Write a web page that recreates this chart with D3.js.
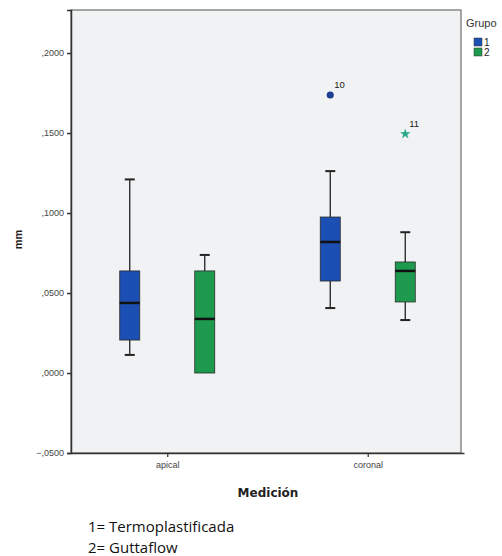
<!DOCTYPE html>
<html>
<head>
<meta charset="utf-8">
<script src="https://cdn.jsdelivr.net/npm/d3@7"></script>
<style>
  body { margin: 0; background: #fff; }
  svg { display: block; }
</style>
</head>
<body>
<div id="chart"></div>
<script>
// data
const mediciones = ["apical", "coronal"];
const grupos = ["1", "2"];
const boxes = [
    {medicion: "apical",  grupo: "1", low: 0.0113, q1: 0.0206, median: 0.0438, q3: 0.0638, high: 0.1210},
    {medicion: "apical",  grupo: "2", low: 0.0000, q1: 0.0000, median: 0.0338, q3: 0.0638, high: 0.0738},
    {medicion: "coronal", grupo: "1", low: 0.0406, q1: 0.0575, median: 0.0819, q3: 0.0975, high: 0.1262},
    {medicion: "coronal", grupo: "2", low: 0.0331, q1: 0.0444, median: 0.0638, q3: 0.0694, high: 0.0880}
];
const outliers = [
    {medicion: "coronal", grupo: "1", value: 0.1738, label: "10", kind: "circle"},
    {medicion: "coronal", grupo: "2", value: 0.1494, label: "11", kind: "star"}
];
const yTicks = [-0.05, 0, 0.05, 0.1, 0.15, 0.2];
const notas = ["1= Termoplastificada", "2= Guttaflow"];

const width = 502, height = 556;
const plot = {left: 71, top: 10, right: 461, bottom: 453};

const color = d3.scaleOrdinal().domain(grupos).range(["#1c4fb3", "#1e9a4f"]);
const outColor = {"1": "#1d3f91", "2": "#2aa98c"};

const y = d3.scaleLinear().domain([-0.05, 0.2269]).range([plot.bottom, plot.top]);
const x = d3.scalePoint().domain(mediciones).range([plot.left, plot.right + 3]).padding(0.48);
const offset = d3.scalePoint().domain(grupos).range([-37.5, 37.5]);
const boxW = 20;

const svg = d3.select("#chart").append("svg")
    .attr("width", width)
    .attr("height", height)
    .style("font-family", "'Liberation Sans', Arial, sans-serif");

svg.append("rect")
    .attr("x", plot.left).attr("y", plot.top)
    .attr("width", plot.right - plot.left).attr("height", plot.bottom - plot.top)
    .attr("fill", "#f1f2f3")
    .attr("stroke", "#6d6d6d")
    .attr("stroke-width", 1.2);

// y axis
const yAxis = svg.append("g")
    .attr("transform", `translate(${plot.left},0)`)
    .call(d3.axisLeft(y).tickValues(yTicks).tickSize(4)
        .tickFormat(d => d3.format(".4f")(d).replace("0.", ".").replace(".", ",")));
yAxis.attr("font-family", null);
yAxis.select(".domain").attr("stroke", "#333").attr("stroke-width", 1.5);
yAxis.selectAll(".tick line").attr("stroke", "#333").attr("stroke-width", 1.5);
yAxis.selectAll("text").attr("font-size", 9).attr("fill", "#444");

// x axis
const xAxis = svg.append("g")
    .attr("transform", `translate(0,${plot.bottom})`)
    .call(d3.axisBottom(x).tickSize(4).tickSizeOuter(0));
xAxis.attr("font-family", null);
xAxis.select(".domain").attr("stroke", "#333").attr("stroke-width", 1.5);
xAxis.selectAll(".tick line").attr("stroke", "#333").attr("stroke-width", 1.2);
xAxis.selectAll("text").attr("font-size", 9).attr("fill", "#444").attr("dy", "0.9em");

svg.append("text")
    .attr("transform", `translate(22,${(plot.top + plot.bottom) / 2 + 8}) rotate(-90)`)
    .attr("text-anchor", "middle")
    .attr("font-size", 11).attr("font-weight", "bold").attr("fill", "#222")
    .text("mm");

svg.append("text")
    .attr("x", 268).attr("y", 497)
    .attr("text-anchor", "middle")
    .attr("font-family", "'DejaVu Sans', sans-serif")
    .attr("font-size", 12).attr("font-weight", "bold").attr("fill", "#222")
    .text("Medición");

// boxes
const g = svg.append("g").selectAll("g")
    .data(boxes)
    .join("g")
    .attr("transform", d => `translate(${x(d.medicion) + offset(d.grupo)},0)`);

g.append("line")
    .attr("y1", d => y(d.high)).attr("y2", d => y(d.q3))
    .attr("stroke", "#222").attr("stroke-width", 1.3);
g.append("line")
    .attr("y1", d => y(d.q1)).attr("y2", d => y(d.low))
    .attr("stroke", "#222").attr("stroke-width", 1.3);
g.append("line")
    .attr("x1", -5).attr("x2", 5)
    .attr("y1", d => y(d.high)).attr("y2", d => y(d.high))
    .attr("stroke", "#222").attr("stroke-width", 2);
g.filter(d => d.low < d.q1).append("line")
    .attr("x1", -5).attr("x2", 5)
    .attr("y1", d => y(d.low)).attr("y2", d => y(d.low))
    .attr("stroke", "#222").attr("stroke-width", 2);
g.append("rect")
    .attr("x", -boxW / 2).attr("width", boxW)
    .attr("y", d => y(d.q3))
    .attr("height", d => y(d.q1) - y(d.q3))
    .attr("fill", d => color(d.grupo))
    .attr("stroke", "#2a2a2a").attr("stroke-width", 0.8);
g.append("line")
    .attr("x1", -boxW / 2).attr("x2", boxW / 2)
    .attr("y1", d => y(d.median)).attr("y2", d => y(d.median))
    .attr("stroke", "#111").attr("stroke-width", 2.5);

// outliers
const o = svg.append("g").selectAll("g")
    .data(outliers)
    .join("g")
    .attr("transform", d => `translate(${x(d.medicion) + offset(d.grupo)},${y(d.value)})`);
o.append("path")
    .attr("d", d => d3.symbol(d.kind === "star" ? d3.symbolStar : d3.symbolCircle, d.kind === "star" ? 34 : 40)())
    .attr("fill", d => outColor[d.grupo]);
o.append("text")
    .attr("x", 4).attr("y", -7)
    .attr("font-size", 9.5).attr("fill", "#222")
    .text(d => d.label);

// legend
const legend = svg.append("g").attr("transform", "translate(466,0)");
legend.append("text")
    .attr("x", 0).attr("y", 27)
    .attr("font-size", 11).attr("fill", "#333")
    .text("Grupo");
const li = legend.selectAll("g")
    .data(grupos)
    .join("g")
    .attr("transform", (d, i) => `translate(8,${38 + i * 10})`);
li.append("rect")
    .attr("width", 8).attr("height", 8)
    .attr("fill", d => color(d))
    .attr("stroke", "#333").attr("stroke-width", 0.5);
li.append("text")
    .attr("x", 10).attr("y", 8)
    .attr("font-size", 10).attr("fill", "#222")
    .text(d => d);

// footnote
svg.append("g").selectAll("text")
    .data(notas)
    .join("text")
    .attr("x", 88)
    .attr("y", (d, i) => 532 + i * 20.5)
    .attr("font-family", "'Open Sans', sans-serif")
    .attr("font-size", 15).attr("fill", "#111")
    .text(d => d);
</script>
</body>
</html>
